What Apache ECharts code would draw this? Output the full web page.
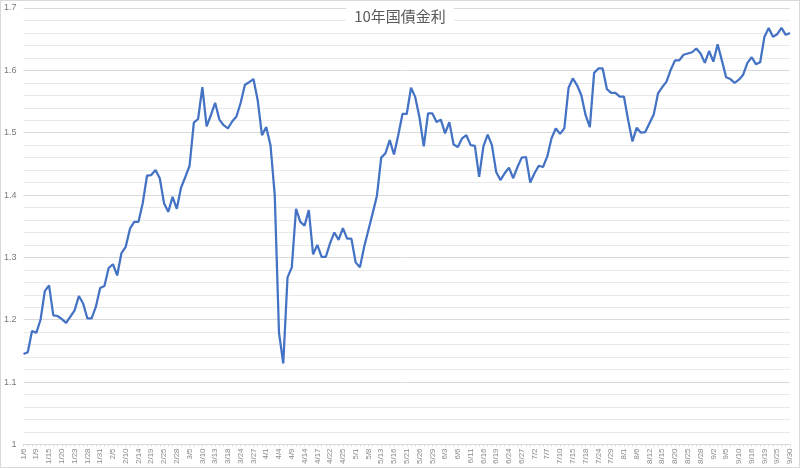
<!DOCTYPE html>
<html>
<head>
<meta charset="utf-8">
<script src="https://cdn.jsdelivr.net/npm/echarts@6/dist/echarts.min.js"></script>
<style>
  html, body { margin: 0; padding: 0; background: #fff; }
  #main { width: 800px; height: 468px; box-sizing: border-box; border: 1px solid #d9d9d9; }
</style>
</head>
<body>
<div id="main"></div>
<script>
// business days, 2025/1/6 - 9/30
var dates = [
  '1/6','1/7','1/8','1/9','1/10','1/14','1/15','1/16','1/17','1/20','1/21','1/22','1/23','1/24','1/27','1/28','1/29','1/30','1/31',
  '2/3','2/4','2/5','2/6','2/7','2/10','2/12','2/13','2/14','2/17','2/18','2/19','2/20','2/21','2/25','2/26','2/27','2/28',
  '3/3','3/4','3/5','3/6','3/7','3/10','3/11','3/12','3/13','3/14','3/17','3/18','3/19','3/21','3/24','3/25','3/26','3/27','3/28','3/31',
  '4/1','4/2','4/3','4/4','4/7','4/8','4/9','4/10','4/11','4/14','4/15','4/16','4/17','4/18','4/21','4/22','4/23','4/24','4/25','4/28','4/30',
  '5/1','5/2','5/7','5/8','5/9','5/12','5/13','5/14','5/15','5/16','5/19','5/20','5/21','5/22','5/23','5/26','5/27','5/28','5/29','5/30',
  '6/2','6/3','6/4','6/5','6/6','6/9','6/10','6/11','6/12','6/13','6/16','6/17','6/18','6/19','6/20','6/23','6/24','6/25','6/26','6/27','6/30',
  '7/1','7/2','7/3','7/4','7/7','7/8','7/9','7/10','7/11','7/14','7/15','7/16','7/17','7/18','7/22','7/23','7/24','7/25','7/28','7/29','7/30','7/31',
  '8/1','8/4','8/5','8/6','8/7','8/8','8/12','8/13','8/14','8/15','8/18','8/19','8/20','8/21','8/22','8/25','8/26','8/27','8/28','8/29',
  '9/1','9/2','9/3','9/4','9/5','9/8','9/9','9/10','9/11','9/12','9/16','9/17','9/18','9/19','9/22','9/24','9/25','9/26','9/29','9/30'
];

// 10年国債金利 (%)
var yields = [
  1.145,1.148,1.182,1.179,1.200,1.246,1.255,1.207,1.206,1.201,1.195,1.205,1.215,1.238,1.226,1.202,1.202,1.221,1.251,
  1.254,1.283,1.289,1.271,1.307,1.317,1.346,1.357,1.357,1.387,1.431,1.432,1.440,1.427,1.387,1.373,1.397,1.378,
  1.412,1.429,1.447,1.516,1.522,1.573,1.510,1.528,1.548,1.521,1.512,1.507,1.518,1.526,1.548,1.577,1.581,1.586,1.552,1.496,
  1.509,1.480,1.400,1.179,1.130,1.268,1.284,1.378,1.357,1.351,1.376,1.305,1.320,1.301,1.301,1.323,1.340,1.328,1.347,1.330,1.330,
  1.292,1.284,1.317,1.344,1.371,1.399,1.460,1.467,1.488,1.465,1.496,1.530,1.530,1.572,1.557,1.524,1.478,1.531,1.531,1.517,
  1.521,1.499,1.517,1.481,1.477,1.491,1.496,1.480,1.479,1.429,1.478,1.497,1.480,1.437,1.424,1.435,1.444,1.427,1.445,1.460,1.461,
  1.420,1.435,1.447,1.445,1.462,1.491,1.507,1.498,1.507,1.572,1.587,1.576,1.560,1.528,1.509,1.596,1.603,1.603,1.570,1.564,1.564,1.558,
  1.558,1.520,1.486,1.508,1.500,1.501,1.515,1.529,1.563,1.573,1.582,1.601,1.616,1.616,1.625,1.627,1.629,1.635,1.627,1.612,
  1.631,1.614,1.642,1.616,1.589,1.586,1.580,1.585,1.593,1.612,1.621,1.610,1.613,1.654,1.668,1.654,1.658,1.668,1.657,1.660
];

var yMin = 1, yMax = 1.7, yStep = 0.1;

var chart = echarts.init(document.getElementById('main'));
chart.setOption({
  animation: false,
  backgroundColor: '#fff',
  title: {
    text: '10年国債金利',
    left: 'center',
    top: 3,
    padding: [5, 8],
    backgroundColor: '#fff',
    textStyle: {
      fontSize: 15,
      fontWeight: 'normal',
      color: '#595959',
      fontFamily: '"Noto Sans CJK JP", sans-serif'
    }
  },
  grid: { left: 22, right: 9, top: 7, bottom: 22 },
  xAxis: {
    type: 'category',
    data: dates,
    boundaryGap: false,
    axisLine: { lineStyle: { color: '#d9d9d9' } },
    axisTick: { show: true, interval: 0, length: 2, lineStyle: { color: '#d9d9d9' } },
    axisLabel: { interval: 2, rotate: 90, fontSize: 8, color: '#8a8a8a', margin: 4 },
    splitLine: { show: false }
  },
  yAxis: {
    type: 'value',
    min: yMin,
    max: yMax,
    interval: yStep,
    axisLine: { show: false },
    axisTick: { show: false },
    axisLabel: { fontSize: 9, color: '#7a7a7a', margin: 7 },
    splitLine: { lineStyle: { color: '#d9d9d9' } },
    minorTick: { show: false, splitNumber: 5 },
    minorSplitLine: { show: true, lineStyle: { color: '#e9e9e9' } }
  },
  series: [{
    name: '10年国債金利',
    type: 'line',
    data: yields,
    showSymbol: false,
    lineStyle: { color: '#4472C4', width: 2.25 },
    itemStyle: { color: '#4472C4' }
  }]
});
</script>
</body>
</html>
